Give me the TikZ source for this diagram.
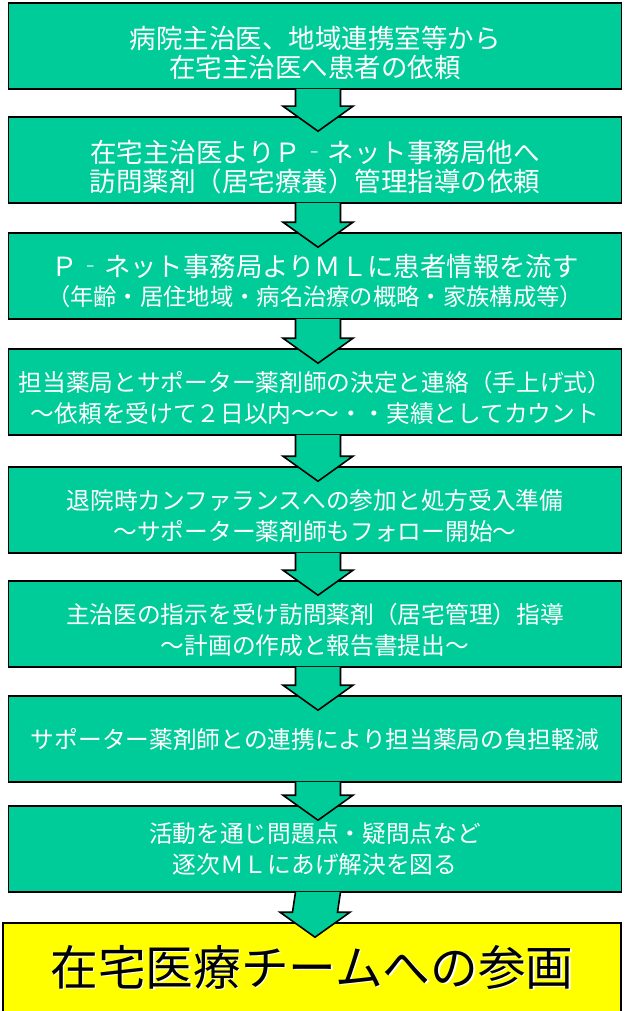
\documentclass[tikz,border=0pt]{standalone}
\usepackage{fontspec}
\setmainfont{Noto Sans CJK JP}
\usetikzlibrary{calc}

\definecolor{flowgreen}{RGB}{0,204,153}
\definecolor{flowyellow}{RGB}{255,255,0}

% tall strut on a first line pushes the text block a little down
\newcommand{\lowstrut}{\rule{0pt}{1.35em}}

% block arrow: shaft out of box #1, head into box #2 (3pt right of centre)
\newcommand{\flowarrow}[2]{%
  \fill[flowgreen] ($(#1.south)+(-19.5,-1)$) -- ($(#2.north)+(-19.5,-10)$) -- ($(#2.north)+(-32,-10)$)
    -- ($(#2.north)+(3,15)$) -- ($(#2.north)+(38,-10)$) -- ($(#2.north)+(25.5,-10)$) -- ($(#1.south)+(25.5,-1)$) -- cycle;
  \draw[arrowline] ($(#1.south)+(-19.5,-0.8)$) -- ($(#2.north)+(-19.5,-10)$) -- ($(#2.north)+(-32,-10)$)
    -- ($(#2.north)+(3,15)$) -- ($(#2.north)+(38,-10)$) -- ($(#2.north)+(25.5,-10)$) -- ($(#1.south)+(25.5,-0.8)$);
}

\begin{document}
\begin{tikzpicture}[x=1pt, y=-1pt,
  stepbox/.style={draw=black, line width=1.6pt, fill=flowgreen, minimum width=613pt, minimum height=86pt,
    inner sep=0pt, align=center, text=white, font=\fontsize{23.7pt}{31pt}\selectfont},
  bigstep/.style={stepbox, font=\fontsize{26.5pt}{29pt}\selectfont},
  goalbox/.style={stepbox, fill=flowyellow, text=black, minimum width=618pt, minimum height=90pt,
    font=\fontsize{47.7pt}{50pt}\selectfont},
  arrowline/.style={draw=black, line width=1.6pt, line join=miter}]
\useasboundingbox (0,0) rectangle (624,1011);

% Request steps
\node[bigstep] (s1) at (315, 46) {\lowstrut 病院主治医、地域連携室等から\\在宅主治医へ患者の依頼};
\node[bigstep] (s2) at (315, 160) {\lowstrut 在宅主治医よりＰ\makebox[1em]{‐}ネット事務局他へ\\訪問薬剤（居宅療養）管理指導の依頼};
\node[stepbox, font=\fontsize{23.3pt}{29pt}\selectfont] (s3) at (315, 276)
  {\lowstrut{\fontsize{26.4pt}{29pt}\selectfont Ｐ\makebox[1em]{‐}ネット事務局よりＭＬに患者情報を流す}\\（年齢・居住地域・病名治療の概略・家族構成等）};

% Pharmacy steps
\node[stepbox] (s4) at (315, 392) {\lowstrut 担当薬局とサポーター薬剤師の決定と連絡（手上げ式）\\～依頼を受けて２日以内～～・・実績としてカウント};
\node[stepbox] (s5) at (315, 510) {\lowstrut 退院時カンファランスへの参加と処方受入準備\\～サポーター薬剤師もフォロー開始～};
\node[stepbox] (s6) at (315, 624) {\lowstrut 主治医の指示を受け訪問薬剤（居宅管理）指導\\～計画の作成と報告書提出～};
\node[stepbox] (s7) at (315, 739) {サポーター薬剤師との連携により担当薬局の負担軽減};
\node[stepbox] (s8) at (315, 849) {活動を通じ問題点・疑問点など\\逐次ＭＬにあげ解決を図る};

% Goal (yellow, runs off the bottom edge)
\node[goalbox] (s9) at (312, 968)
  {\rlap{\color{white}\hspace{1.5pt}\raisebox{-1.5pt}{在宅医療チームへの参画}}在宅医療チームへの参画};

% Block arrows between the steps
\flowarrow{s1}{s2}
\flowarrow{s2}{s3}
\flowarrow{s3}{s4}
\flowarrow{s4}{s5}
\flowarrow{s5}{s6}
\flowarrow{s6}{s7}
\flowarrow{s7}{s8}
\flowarrow{s8}{s9}
\end{tikzpicture}
\end{document}
